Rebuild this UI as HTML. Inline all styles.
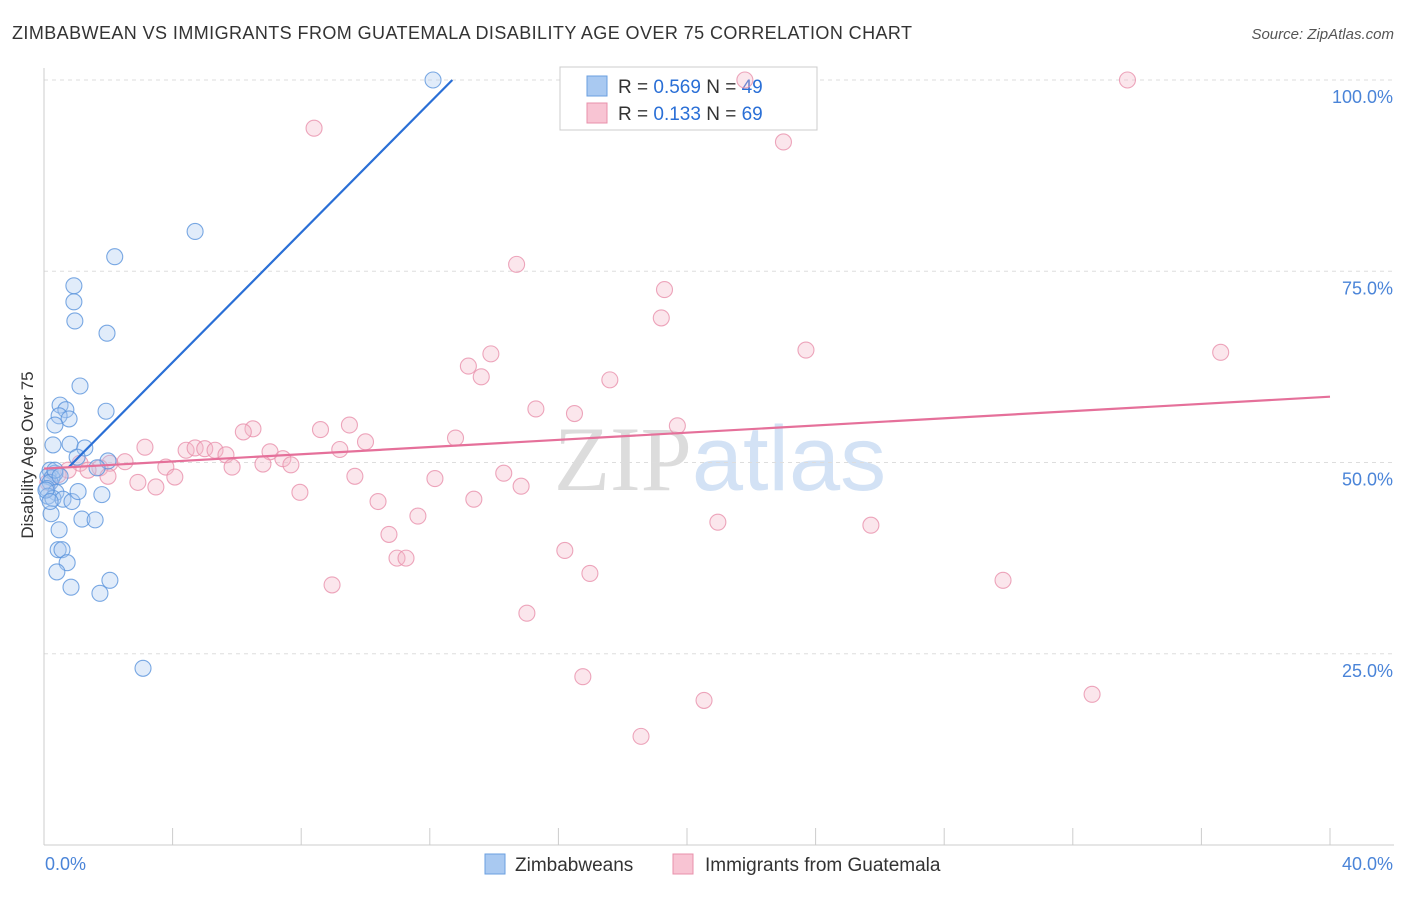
<!DOCTYPE html>
<html><head><meta charset="utf-8"><style>
body{margin:0;background:#fff;font-family:"Liberation Sans",sans-serif}
svg text{font-family:"Liberation Sans",sans-serif}
</style></head><body>
<svg id="chart" width="1406" height="892" viewBox="0 0 1406 892">
<text x="12" y="39" font-size="18" fill="#333" textLength="900" lengthAdjust="spacing">ZIMBABWEAN VS IMMIGRANTS FROM GUATEMALA DISABILITY AGE OVER 75 CORRELATION CHART</text>
<text x="1394" y="39" font-size="15" fill="#555" font-style="italic" text-anchor="end">Source: ZipAtlas.com</text>
<text x="720" y="490" font-size="92" text-anchor="middle"><tspan fill="#dcdcdc" font-family="Liberation Serif">ZIP</tspan><tspan fill="#d3e2f5">atlas</tspan></text>
<g id="grid"></g><g id="axes"></g>
<g>
<rect x="560" y="67" width="257" height="63" fill="#fff" stroke="#ccc"/>
<rect x="587" y="76" width="20" height="20" fill="#a9c9f1" stroke="#6a9fe0"/>
<rect x="587" y="103" width="20" height="20" fill="#f8c4d3" stroke="#e890ab"/>
<text x="618" y="93" font-size="19" fill="#333">R = <tspan fill="#2a6fd6">0.569</tspan>   N = <tspan fill="#2a6fd6">49</tspan></text>
<text x="618" y="120" font-size="19" fill="#333">R =  <tspan fill="#2a6fd6">0.133</tspan>   N = <tspan fill="#2a6fd6">69</tspan></text>
</g>
<g id="pts"></g><g id="lines"></g>
<text transform="translate(33,455) rotate(-90)" font-size="17" fill="#333" text-anchor="middle">Disability Age Over 75</text>
<g>
<rect x="485" y="854" width="20" height="20" fill="#a9c9f1" stroke="#6a9fe0"/>
<text x="515" y="871" font-size="19" fill="#333">Zimbabweans</text>
<rect x="673" y="854" width="20" height="20" fill="#f8c4d3" stroke="#e890ab"/>
<text x="705" y="871" font-size="19" fill="#333">Immigrants from Guatemala</text>
</g>
</svg>
<script>
const yTicks=[25,50,75,100];
const yTickLabels=["25.0%","50.0%","75.0%","100.0%"];
const xTickCount=[0,4,8,12,16,20,24,28,32,36,40];
const blueX=[12.1,4.7,2.2,0.93,0.93,0.96,1.96,1.12,1.93,0.5,0.68,0.47,0.78,0.34,0.28,0.81,1.27,1.03,1.99,1.65,0.19,0.34,0.12,0.25,0.19,0.09,0.37,0.12,0.28,0.59,0.87,1.06,1.8,0.22,1.18,1.59,0.47,0.44,0.56,0.72,0.40,0.84,1.74,2.05,3.08,0.34,0.06,0.5,0.19];
const blueY=[100,80.2,76.9,73.1,71.0,68.5,66.9,60.0,56.7,57.5,56.9,56.1,55.7,54.9,52.3,52.4,51.9,50.7,50.2,49.3,49.0,48.6,48.2,48.0,47.4,46.6,46.1,45.6,45.3,45.2,44.9,46.2,45.8,43.3,42.6,42.5,41.2,38.6,38.6,36.9,35.7,33.7,32.9,34.6,23.1,49.0,46.4,48.2,44.9];
const pinkX=[21.8,33.7,8.4,23.0,14.7,19.3,19.2,23.7,36.6,13.9,13.2,13.6,17.6,15.3,16.5,19.7,9.5,8.6,6.5,6.2,10.0,12.8,9.2,3.14,4.42,4.7,5.0,5.32,5.66,7.03,7.43,7.68,6.81,5.85,3.79,2.52,2.05,1.74,1.12,1.37,0.75,0.44,1.99,2.92,3.48,4.07,7.96,9.67,12.16,14.3,14.84,13.37,10.39,11.63,10.73,16.2,10.98,11.26,16.98,20.96,25.72,8.96,15.02,29.83,16.76,20.53,32.6,18.57,0.12];
const pinkY=[100,100,93.7,91.9,75.9,72.6,68.9,64.7,64.4,64.2,62.6,61.2,60.8,57.0,56.4,54.8,54.9,54.3,54.4,54.0,52.7,53.2,51.7,52.0,51.6,51.9,51.8,51.6,51.0,51.4,50.5,49.7,49.8,49.4,49.4,50.1,49.9,49.3,49.9,49.0,49.0,48.4,48.2,47.4,46.8,48.1,46.1,48.2,47.9,48.6,46.9,45.2,44.9,43.0,40.6,38.5,37.5,37.5,35.5,42.2,41.8,34.0,30.3,34.6,22.0,18.9,19.7,14.2,47.4];
const blueTrend={x:[0.77,12.7],y:[49.4,100]};
const pinkTrend={x:[0,40],y:[49.2,58.6]};
const X0=44,X1=1330,Y0=845,Y100=80;
const xs=v=>X0+(X1-X0)*v/40, ys=v=>Y0-(Y0-Y100)*v/100;
const NS="http://www.w3.org/2000/svg";
function mk(p,t,a){const e=document.createElementNS(NS,t);for(const k in a)e.setAttribute(k,a[k]);p.appendChild(e);return e;}
const grid=document.getElementById('grid'),axes=document.getElementById('axes'),pts=document.getElementById('pts'),lines=document.getElementById('lines');
yTicks.forEach((t,i)=>{
 const l=mk(grid,'line',{x1:X0,x2:1394,y1:ys(t),y2:ys(t),stroke:'#ddd','stroke-dasharray':'4,4'});
 
 
 const tx=mk(axes,'text',{x:1393,y:ys(t)+23,'font-size':18,fill:'#4a84d8','text-anchor':'end'});
 tx.textContent=yTickLabels[i];
 
 
});
const ax=mk(axes,'line',{x1:X0,x2:X0,y1:68,y2:Y0,stroke:'#ccc'});


const bx=mk(axes,'line',{x1:X0,x2:1394,y1:Y0,y2:Y0,stroke:'#ccc'});


xTickCount.forEach(t=>{
 const l=mk(axes,'line',{x1:xs(t),x2:xs(t),y1:828,y2:Y0,stroke:'#ccc'});
 
 
});
[[0,"0.0%","start",45],[40,"40.0%","end",1393]].forEach(d=>{
 const t=mk(axes,'text',{x:d[3],y:870,'font-size':18,fill:'#4a84d8','text-anchor':d[2]});
 t.textContent=d[1];
 
 
});
function dots(X,Y,fill,stroke,name){X.forEach((x,i)=>{
 const c=mk(pts,'circle',{cx:xs(x),cy:ys(Y[i]),r:8,fill:fill,'fill-opacity':0.35,stroke:stroke,'stroke-opacity':0.8,'stroke-width':1.1});
 
 
});}
dots(pinkX,pinkY,'#f4b7c9','#e890ab','guatemala-point');
dots(blueX,blueY,'#a9c9f1','#5a93dc','zimbabwean-point');
const b=mk(lines,'line',{x1:xs(blueTrend.x[0]),y1:ys(blueTrend.y[0]),x2:xs(blueTrend.x[1]),y2:ys(blueTrend.y[1]),stroke:'#2a6fd6','stroke-width':2.2});


const p=mk(lines,'line',{x1:xs(pinkTrend.x[0]),y1:ys(pinkTrend.y[0]),x2:xs(pinkTrend.x[1]),y2:ys(pinkTrend.y[1]),stroke:'#e5709a','stroke-width':2.2});


</script>
</body></html>
